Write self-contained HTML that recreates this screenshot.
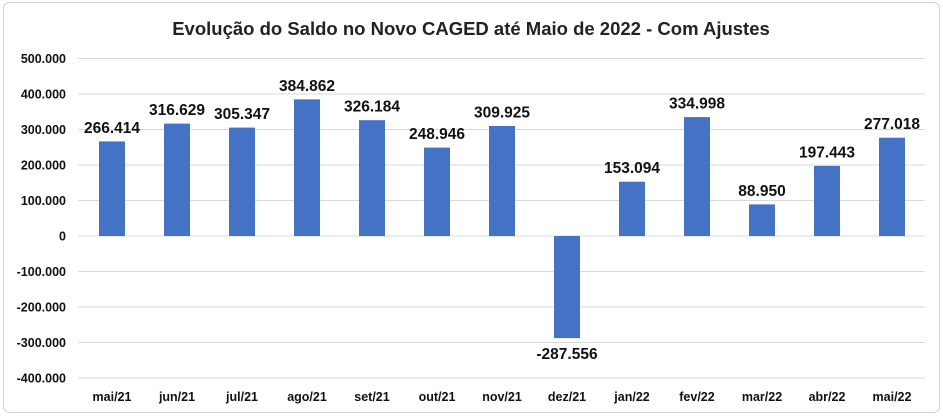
<!DOCTYPE html>
<html><head><meta charset="utf-8"><style>
html,body{margin:0;padding:0;background:#fff}
svg{display:block;font-family:"Liberation Sans",sans-serif}
</style></head><body>
<svg width="943" height="416" viewBox="0 0 943 416" xmlns="http://www.w3.org/2000/svg">
<rect x="3.5" y="2.5" width="936" height="410" rx="6" fill="#fff" stroke="#d0d0d0"/>
<text x="471" y="35" text-anchor="middle" font-size="18.5" font-weight="bold" fill="#222">Evolução do Saldo no Novo CAGED até Maio de 2022 - Com Ajustes</text>
<g stroke="#d9d9d9" stroke-width="1">
<line x1="78" x2="925" y1="58.5" y2="58.5"/><line x1="78" x2="925" y1="94" y2="94"/>
<line x1="78" x2="925" y1="129.5" y2="129.5"/><line x1="78" x2="925" y1="165" y2="165"/>
<line x1="78" x2="925" y1="200.5" y2="200.5"/><line x1="78" x2="925" y1="236" y2="236"/>
<line x1="78" x2="925" y1="271.5" y2="271.5"/><line x1="78" x2="925" y1="307" y2="307"/>
<line x1="78" x2="925" y1="342.5" y2="342.5"/><line x1="78" x2="925" y1="378" y2="378"/>
</g>
<g font-size="12.5" font-weight="bold" fill="#111" text-anchor="end">
<text x="66" y="63">500.000</text><text x="66" y="98.5">400.000</text><text x="66" y="134">300.000</text>
<text x="66" y="169.5">200.000</text><text x="66" y="205">100.000</text><text x="66" y="240.5">0</text>
<text x="66" y="276">-100.000</text><text x="66" y="311.5">-200.000</text><text x="66" y="347">-300.000</text>
<text x="66" y="382.5">-400.000</text>
</g>
<g fill="#4472c4">
<rect x="99" y="141.4" width="26" height="94.6"/>
<rect x="164" y="123.6" width="26" height="112.4"/>
<rect x="229" y="127.6" width="26" height="108.4"/>
<rect x="294" y="99.4" width="26" height="136.6"/>
<rect x="359" y="120.2" width="26" height="115.8"/>
<rect x="424" y="147.6" width="26" height="88.4"/>
<rect x="489" y="126" width="26" height="110"/>
<rect x="554" y="236" width="26" height="102.1"/>
<rect x="619" y="181.7" width="26" height="54.3"/>
<rect x="684" y="117.1" width="26" height="118.9"/>
<rect x="749" y="204.4" width="26" height="31.6"/>
<rect x="814" y="165.9" width="26" height="70.1"/>
<rect x="879" y="137.7" width="26" height="98.3"/>
</g>
<g font-size="15.5" font-weight="bold" fill="#111" text-anchor="middle">
<text x="112" y="133">266.414</text><text x="177" y="115">316.629</text><text x="242" y="119">305.347</text>
<text x="307" y="91">384.862</text><text x="372" y="111.5">326.184</text><text x="437" y="139">248.946</text>
<text x="502" y="117.5">309.925</text><text x="567" y="359">-287.556</text><text x="632" y="173">153.094</text>
<text x="697" y="108.5">334.998</text><text x="762" y="196">88.950</text><text x="827" y="157.5">197.443</text>
<text x="892" y="129">277.018</text>
</g>
<g font-size="12.5" font-weight="bold" fill="#111" text-anchor="middle">
<text x="112" y="401">mai/21</text><text x="177" y="401">jun/21</text><text x="242" y="401">jul/21</text>
<text x="307" y="401">ago/21</text><text x="372" y="401">set/21</text><text x="437" y="401">out/21</text>
<text x="502" y="401">nov/21</text><text x="567" y="401">dez/21</text><text x="632" y="401">jan/22</text>
<text x="697" y="401">fev/22</text><text x="762" y="401">mar/22</text><text x="827" y="401">abr/22</text>
<text x="892" y="401">mai/22</text>
</g>
</svg>
</body></html>
